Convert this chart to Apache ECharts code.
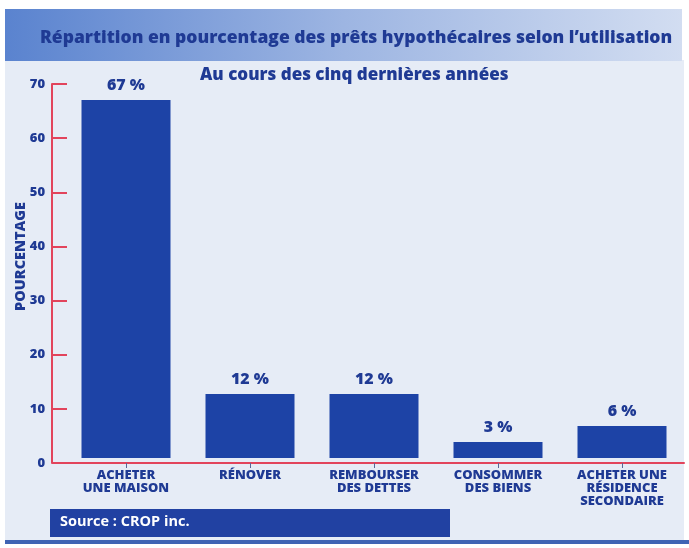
<!DOCTYPE html>
<html>
<head>
<meta charset="utf-8">
<script src="https://cdn.jsdelivr.net/npm/echarts@6/dist/echarts.min.js"></script>
<style>
  html, body { margin: 0; padding: 0; background: #ffffff; }
  #chart { width: 689px; height: 548px; }
</style>
</head>
<body>
<div id="chart"></div>
<script>
// donnees
var categories = ['ACHETER\nUNE MAISON', 'RÉNOVER', 'REMBOURSER\nDES DETTES', 'CONSOMMER\nDES BIENS', 'ACHETER UNE\nRÉSIDENCE\nSECONDAIRE'];
var values = [67, 12, 12, 3, 6];
var yTicks = [0, 10, 20, 30, 40, 50, 60, 70];

var navy = '#1f3a94';
var red = '#e2445c';
var barBlue = '#1d43a6';
var font = '"Open Sans", "Noto Sans", sans-serif';
var heavy = 800;

var chart = echarts.init(document.getElementById('chart'));

var option = {
    backgroundColor: '#ffffff',
    title: {
        text: 'Répartition en pourcentage des prêts hypothécaires selon l\u2019utilisation',
        left: 35,
        top: 24,
        textStyle: {
            color: navy,
            fontFamily: font,
            fontWeight: heavy,
            fontSize: 17.5
        }
    },
    graphic: [
        // fond du panneau
        { type: 'rect', z: -20, shape: { x: 5, y: 60, width: 679, height: 482 }, style: { fill: '#e6ecf6' } },
        // bandeau du titre
        {
            type: 'rect', z: -10,
            shape: { x: 5, y: 9, width: 677, height: 52 },
            style: {
                fill: new echarts.graphic.LinearGradient(0, 0, 1, 0, [
                    { offset: 0, color: '#5a83cf' },
                    { offset: 0.5, color: '#9db5e2' },
                    { offset: 1, color: '#d2ddf1' }
                ])
            }
        },
        // filet bas
        { type: 'rect', z: -10, shape: { x: 5, y: 540, width: 684, height: 4 }, style: { fill: '#3f64b4' } },
        // bout de l'axe x jusqu'a l'axe y
        { type: 'line', z: 10, shape: { x1: 52, y1: 463, x2: 65, y2: 463 }, style: { stroke: red, lineWidth: 2 } },
        // sous-titre
        {
            type: 'text', z: 10, left: 200, top: 67,
            style: { text: 'Au cours des cinq dernières années', fill: navy, font: heavy + ' 17px ' + font }
        },
        // source
        { type: 'rect', z: 10, shape: { x: 50, y: 509, width: 400, height: 28 }, style: { fill: '#2141a2' } },
        {
            type: 'text', z: 11, left: 60, top: 514,
            style: { text: 'Source : CROP inc.', fill: '#ffffff', font: 'bold 14.5px ' + font }
        }
    ],
    grid: {
        left: 64,
        right: 5,
        top: 84,
        bottom: 85,
        outerBoundsMode: 'none'
    },
    xAxis: {
        type: 'category',
        data: categories,
        axisLine: { show: true, lineStyle: { color: red, width: 2 } },
        axisTick: { show: true, alignWithLabel: true, length: 5, lineStyle: { color: '#5a6796', width: 1 } },
        axisLabel: {
            interval: 0,
            margin: 6,
            color: navy,
            fontFamily: font,
            fontWeight: heavy,
            fontSize: 13,
            lineHeight: 13
        },
        z: 5
    },
    yAxis: [{
        type: 'value',
        min: yTicks[0],
        max: yTicks[yTicks.length - 1],
        interval: 10,
        offset: 12,
        name: 'POURCENTAGE',
        nameLocation: 'middle',
        nameGap: 24,
        nameMoveOverlap: false,
        nameTextStyle: { color: navy, fontFamily: font, fontWeight: heavy, fontSize: 14.5, padding: [0, 0, 0, 34] },
        axisLine: { show: true, lineStyle: { color: red, width: 2 } },
        axisTick: { show: true, inside: true, length: 15, lineStyle: { color: red, width: 2 } },
        axisLabel: { color: navy, fontFamily: font, fontWeight: heavy, fontSize: 13, margin: 7 },
        splitLine: { show: false }
    }, {
        // echelle des barres : le zero est pose un peu au-dessus de l'axe rouge
        type: 'value',
        min: -0.92,
        max: 70,
        show: false
    }],
    series: [{
        type: 'bar',
        yAxisIndex: 1,
        data: values,
        barWidth: 89,
        itemStyle: { color: barBlue },
        label: {
            show: true,
            position: 'top',
            distance: 7,
            formatter: '{c} %',
            color: navy,
            fontFamily: font,
            fontWeight: heavy,
            fontSize: 16
        }
    }]
};

chart.setOption(option);
</script>
</body>
</html>
